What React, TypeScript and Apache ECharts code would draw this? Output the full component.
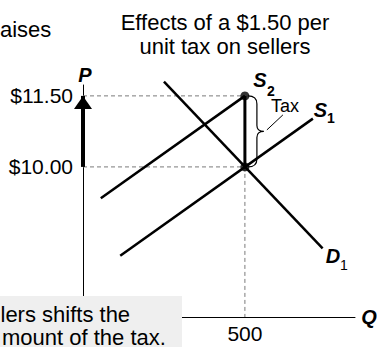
import { useEffect, useRef } from "react";
import * as echarts from "echarts";

const FONT = "Arial, 'Liberation Sans', Helvetica, sans-serif";

// Axis ticks
const priceTicks = [10, 11.5];
const quantityTicks = [500];

// Curves as [quantity, price] end points
const demandD1 = [
  [250, 11.8],
  [740, 8.28],
];
const supplyS1 = [
  [115, 8.125],
  [710, 11.02],
];
const supplyS2 = [
  [55, 9.34],
  [500, 11.5],
];

// Equilibrium before the tax and the price sellers need with the tax
const equilibriumQ = 500;
const priceBefore = 10;
const taxPerUnit = 1.5;
const priceWithTax = priceBefore + taxPerUnit;

// Axis ranges
const qMin = 0;
const qMax = 840;
const pMin = 6.83;
const pMax = 11.73;

const dashed = (data: number[][]) => ({
  type: "line",
  data,
  symbol: "none",
  silent: true,
  clip: false,
  lineStyle: { color: "#7a7a7a", width: 1, type: [4, 3] },
  z: 1,
});

const curve = (data: number[][]) => ({
  type: "line",
  data,
  symbol: "none",
  silent: true,
  clip: false,
  lineStyle: { color: "#000", width: 2.5, cap: "butt" },
  z: 3,
});

const label = (
  text: string,
  x: number,
  y: number,
  size: number,
  opts: Record<string, unknown> = {}
) => ({
  type: "text",
  x,
  y,
  z: 20,
  silent: true,
  style: {
    text,
    fill: "#000",
    fontSize: size,
    fontFamily: FONT,
    align: "center",
    textAlign: "center",
    verticalAlign: "middle",
    textVerticalAlign: "middle",
    ...opts,
  },
});

export default function App() {
  const ref = useRef<HTMLDivElement>(null);

  useEffect(() => {
    if (!ref.current) return;
    document.body.style.margin = "0";
    const chart = echarts.init(ref.current, null, { renderer: "svg" });

    const bi = { fontWeight: "bold", fontStyle: "italic" };
    const b = { fontWeight: "bold" };

    chart.setOption({
      animation: false,
      backgroundColor: "#fff",
      grid: { left: 83, right: 22, top: 85, bottom: 30, containLabel: false },
      xAxis: {
        type: "value",
        min: qMin,
        max: qMax,
        splitLine: { show: false },
        axisTick: { show: false },
        axisLine: { show: true, onZero: false, lineStyle: { color: "#000", width: 1 } },
        axisLabel: {
          customValues: quantityTicks,
          formatter: (v: number) => String(v),
          color: "#000",
          fontSize: 21,
          fontFamily: FONT,
          margin: 6,
        },
      },
      yAxis: {
        type: "value",
        min: pMin,
        max: pMax,
        splitLine: { show: false },
        axisTick: { show: false },
        axisLine: { show: true, onZero: false, lineStyle: { color: "#000", width: 1 } },
        axisLabel: {
          customValues: priceTicks,
          formatter: (v: number) => "$" + v.toFixed(2),
          color: "#000",
          fontSize: 21,
          fontFamily: FONT,
          margin: 10,
        },
      },
      series: [
        dashed([
          [qMin, priceWithTax],
          [equilibriumQ, priceWithTax],
        ]),
        dashed([
          [qMin, priceBefore],
          [equilibriumQ, priceBefore],
        ]),
        dashed([
          [equilibriumQ, priceBefore],
          [equilibriumQ, pMin],
        ]),
        curve(demandD1),
        curve(supplyS1),
        curve(supplyS2),
        // vertical distance between the supply curves = the tax
        {
          type: "line",
          data: [
            [equilibriumQ, priceBefore],
            [equilibriumQ, priceWithTax],
          ],
          symbol: "none",
          silent: true,
          lineStyle: { color: "#000", width: 3 },
          z: 4,
        },
        // price rise arrow on the price axis
        {
          type: "line",
          data: [
            { value: [qMin, priceBefore], symbol: "none" },
            {
              value: [qMin, priceWithTax],
              symbol: "triangle",
              symbolSize: [18, 13],
              symbolOffset: [0, 6.5],
            },
          ],
          symbol: "none",
          silent: true,
          clip: false,
          itemStyle: { color: "#000" },
          lineStyle: { color: "#000", width: 4, cap: "butt" },
          z: 5,
        },
        {
          type: "scatter",
          data: [
            [equilibriumQ, priceBefore],
            [equilibriumQ, priceWithTax],
          ],
          symbolSize: 9,
          silent: true,
          itemStyle: { color: "#000" },
          z: 6,
        },
        // curly brace marking the tax, with its label
        {
          type: "custom",
          silent: true,
          data: [[equilibriumQ, priceWithTax, priceBefore]],
          z: 7,
          renderItem: (_params: any, api: any) => {
            const top = api.coord([api.value(0), api.value(1)]);
            const bot = api.coord([api.value(0), api.value(2)]);
            const x = top[0];
            const y0 = top[1];
            const y1 = bot[1];
            const ym = (y0 + y1) / 2;
            const L = x + 3;
            const V = x + 12;
            const T = x + 19;
            const d =
              `M${L} ${y0} C${x + 9} ${y0} ${V} ${y0 + 2} ${V} ${y0 + 8} ` +
              `L${V} ${ym - 6} C${V} ${ym - 2} ${x + 14} ${ym} ${T} ${ym} ` +
              `C${x + 14} ${ym} ${V} ${ym + 2} ${V} ${ym + 6} ` +
              `L${V} ${y1 - 8} C${V} ${y1 - 2} ${x + 9} ${y1} ${L} ${y1}`;
            return {
              type: "group",
              children: [
                {
                  type: "path",
                  shape: { pathData: d },
                  style: { fill: "none", stroke: "#000", lineWidth: 1.2 },
                },
                {
                  type: "line",
                  shape: { x1: T + 3, y1: ym - 1.5, x2: T + 19, y2: ym - 16.5 },
                  style: { stroke: "#000", lineWidth: 1 },
                },
                {
                  type: "text",
                  style: {
                    text: "Tax",
                    x: T + 7,
                    y: ym - 25.5,
                    fill: "#000",
                    fontSize: 18,
                    fontFamily: FONT,
                    align: "left",
                    verticalAlign: "middle",
                  },
                },
              ],
            };
          },
        },
      ],
      graphic: [
        label("aises", 0, 29, 22, { align: "left", textAlign: "left" }),
        label(
          `Effects of a $${taxPerUnit.toFixed(2)} per\nunit tax on sellers`,
          225,
          34,
          22,
          { lineHeight: 24 }
        ),
        label("P", 85, 75, 20, bi),
        label("Q", 369, 317, 20, bi),
        label("S", 260, 79.5, 20, bi),
        label("2", 271, 91, 14, b),
        label("S", 320.5, 110, 20, bi),
        label("1", 331, 117.5, 14, b),
        label("D", 333, 255.5, 20, bi),
        label("1", 344, 265, 14),
        {
          type: "rect",
          z: 15,
          silent: true,
          shape: { x: 0, y: 296, width: 182, height: 51 },
          style: { fill: "#efefef" },
        },
        label("lers shifts the", 0.5, 314, 22, { align: "left", textAlign: "left" }),
        label("mount of the tax.", 2, 337, 22, { align: "left", textAlign: "left" }),
      ],
    });

    return () => chart.dispose();
  }, []);

  return <div ref={ref} style={{ width: 377, height: 347 }} />;
}
